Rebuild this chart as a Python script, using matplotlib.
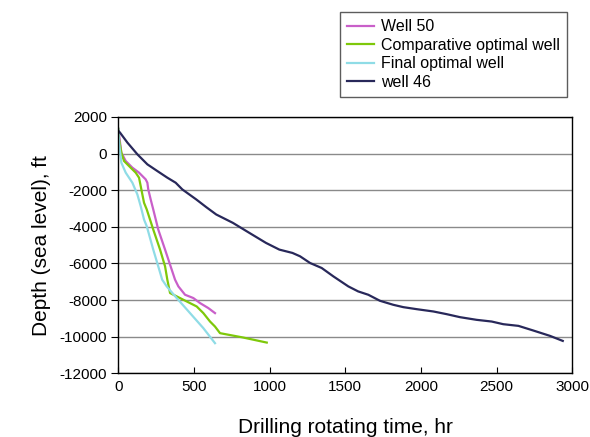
import matplotlib
matplotlib.use("Agg")
import matplotlib.pyplot as plt

plt.rcParams['font.family'] = ['Liberation Sans', 'DejaVu Sans']
plt.rcParams['axes.unicode_minus'] = False

well50_t = [0, 20, 49, 93, 137, 181, 192, 198, 214, 231, 264, 309, 353, 375, 397, 441, 496, 540, 595, 639]
well50_d = [1350, 55, -405, -767, -1041, -1408, -1589, -1956, -2504, -3052, -4148, -5244, -6339, -6887, -7254, -7709, -7890, -8164, -8438, -8712]

comp_t = [0, 5, 20, 38, 71, 115, 137, 148, 170, 188, 231, 276, 309, 324, 342, 386, 452, 518, 562, 606, 639, 672, 826, 981]
comp_d = [1350, 783, 55, -405, -680, -1041, -1315, -1775, -2685, -3052, -4148, -5244, -6158, -6887, -7616, -7799, -8075, -8349, -8712, -9170, -9446, -9807, -10047, -10322]

final_t = [0, 5, 20, 49, 93, 126, 148, 170, 188, 231, 264, 290, 320, 386, 474, 562, 639]
final_d = [1350, 603, -493, -1041, -1589, -2230, -2871, -3600, -3967, -5244, -6158, -6887, -7254, -7890, -8712, -9534, -10355]

well46_t = [0, 11, 60, 126, 192, 258, 324, 379, 423, 515, 581, 647, 757, 866, 976, 1064, 1151, 1201, 1267, 1344,
            1421, 1520, 1585, 1652, 1729, 1817, 1883, 1971, 2082, 2170, 2258, 2368, 2467, 2544, 2644, 2743, 2853, 2937]
well46_d = [1250, 1150, 603, -38, -586, -953, -1315, -1589, -1956, -2503, -2923, -3325, -3782, -4330, -4878, -5243, -5426, -5609, -5974, -6248,
            -6705, -7253, -7527, -7710, -8039, -8258, -8386, -8496, -8623, -8770, -8934, -9080, -9172, -9318, -9409, -9665, -9957, -10231]

labels = ["Well 50", "Comparative optimal well", "Final optimal well", "well 46"]
colors = ["#c95fc9", "#7ec80a", "#8fdce6", "#28285a"]

x_ticks = [0, 500, 1000, 1500, 2000, 2500, 3000]
y_ticks = [2000, 0, -2000, -4000, -6000, -8000, -10000, -12000]

fig = plt.figure(figsize=(5.9, 4.37), dpi=100)
ax = fig.add_axes([118.3 / 590, 1 - 373.3 / 437, (572.3 - 118.3) / 590, (373.3 - 117) / 437])

for t, d, lab, c in zip([well50_t, comp_t, final_t, well46_t],
                        [well50_d, comp_d, final_d, well46_d], labels, colors):
    ax.plot(t, d, color=c, lw=1.6, label=lab)

ax.set_xlim(0, 3000)
ax.set_ylim(-12000, 2000)
ax.set_xticks(x_ticks)
ax.set_yticks(y_ticks)
ax.yaxis.grid(True, color="#8a8a8a", lw=1.0)
ax.set_axisbelow(True)
ax.tick_params(axis='x', direction='in', length=4, labelsize=11, pad=5)
ax.tick_params(axis='y', direction='out', length=5, labelsize=11, pad=3)
for s in ax.spines.values():
    s.set_color("black")
    s.set_linewidth(1.0)

ax.set_xlabel("Drilling rotating time, hr", fontsize=15, labelpad=17)
ax.set_ylabel("Depth (sea level), ft", fontsize=15, labelpad=6)

leg = fig.legend(loc="upper left", bbox_to_anchor=(340 / 590, 1 - 12 / 437),
                 fontsize=11.5, frameon=True, fancybox=False, handlelength=1.7,
                 handletextpad=0.4, labelspacing=0.22, borderpad=0.45, borderaxespad=0)
leg.get_frame().set_edgecolor("#333333")
leg.get_frame().set_linewidth(1.0)

fig.savefig("out.png", dpi=100)
